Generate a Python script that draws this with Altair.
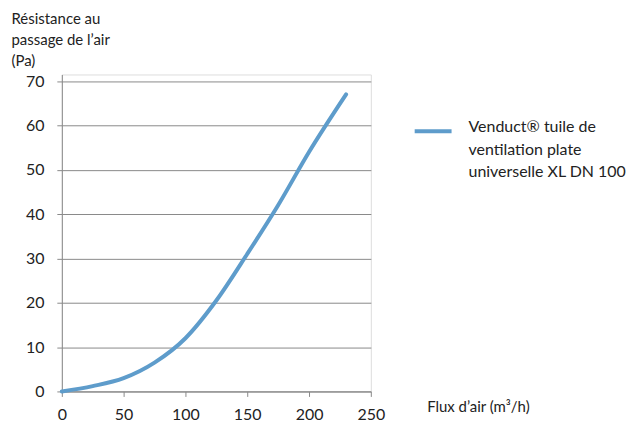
import altair as alt
import pandas as pd

flux = [0, 25, 50, 75, 100, 125, 150, 175, 200, 230]
resistance = [0, 1.2, 3.0, 6.5, 12.0, 20.5, 31.0, 42.0, 54.0, 67.0]
series_name = "Venduct® tuile de ventilation plate universelle XL DN 100"
legend_lines = ["Venduct® tuile de", "ventilation plate", "universelle XL DN 100"]
y_title = ["Résistance au", "passage de l’air", "(Pa)"]
x_title = "Flux d’air (m³/h)"

df = pd.DataFrame({"flux": flux, "res": resistance, "serie": series_name})

FONT = "Lato"
GRID = "#8a8a8a"
TXT = "#222222"
BLUE = "#5e9ccb"

line = alt.Chart(df).mark_line(interpolate="monotone", strokeWidth=4, strokeCap="round", color=BLUE).encode(
    x=alt.X("flux:Q", scale=alt.Scale(domain=[0, 250], nice=False),
            axis=alt.Axis(values=[0, 50, 100, 150, 200, 250], grid=False, tickSize=5,
                          domainColor=GRID, tickColor=GRID, labelFontSize=16, labelColor=TXT,
                          labelFont=FONT, labelPadding=23, labelBaseline="alphabetic",
                          labelFlush=False,
                          title=x_title, titleFont=FONT, titleFontSize=15,
                          titleFontWeight="normal", titleColor=TXT, titleAlign="left",
                          titleBaseline="alphabetic", titleX=366, titleY=20)),
    y=alt.Y("res:Q", scale=alt.Scale(domain=[0, 71.5], nice=False),
            axis=alt.Axis(values=[0, 10, 20, 30, 40, 50, 60, 70], grid=True, gridColor=GRID,
                          gridOpacity=1, tickSize=5, domainColor=GRID, tickColor=GRID,
                          labelFontSize=16, labelColor=TXT, labelFont=FONT, labelPadding=13,
                          labelFlush=False,
                          title=y_title,
                          titleFont=FONT, titleFontSize=15, titleFontWeight="normal",
                          titleColor=TXT, titleAngle=0, titleAlign="left",
                          titleBaseline="alphabetic", titleX=-51, titleY=-51,
                          titleLineHeight=21)),
)

legend_df = pd.DataFrame({"serie": [series_name]})
legend_rule = alt.Chart(legend_df).mark_rule(strokeWidth=4, color=BLUE).encode(
    x=alt.value(354), x2=alt.value(391), y=alt.value(57)
)
legend_text = alt.Chart(legend_df).mark_text(
    align="left", baseline="alphabetic", font=FONT, fontSize=16, color=TXT, lineHeight=22.5,
    text=legend_lines
).encode(x=alt.value(408), y=alt.value(58))

chart = alt.layer(line, legend_rule, legend_text).properties(
    width=310, height=318,
    autosize=alt.AutoSizeParams(type="none"),
    padding={"left": 54, "top": 66, "right": 256, "bottom": 31},
).configure_view(stroke=None).configure(background="white")

chart.save("out.html", embed_options={"renderer": "svg", "actions": False})
